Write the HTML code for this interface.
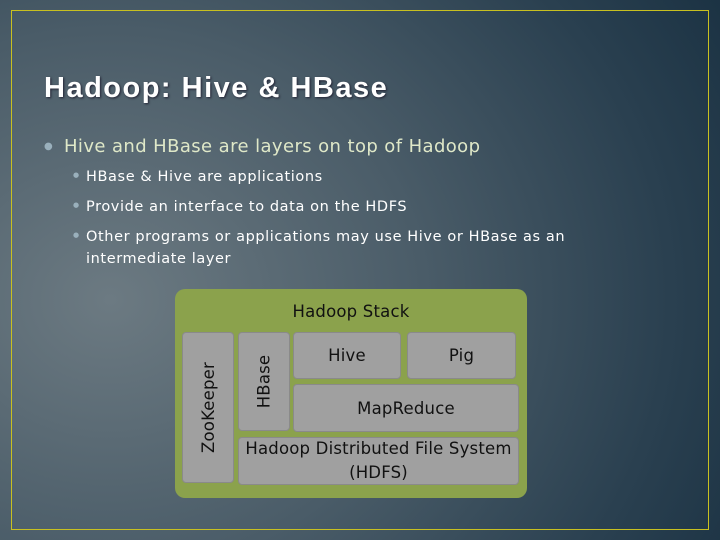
<!DOCTYPE html>
<html><head><style>
body{margin:0;width:720px;height:540px;overflow:hidden;font-family:"DejaVu Sans",sans-serif;
background:radial-gradient(ellipse 700px 600px at 110px 300px,#6c7a82 0%,#4a5c68 45%,#2a4050 80%,#1c3344 100%);position:relative}
.bd{position:absolute;left:11px;top:10px;width:696px;height:518px;border:1px solid #c8c020}
.t{position:absolute;left:44px;top:72px;font-family:"Liberation Sans",sans-serif;font-size:29px;font-weight:bold;color:#fff;letter-spacing:1.5px;text-shadow:1px 1px 2px #223}
.b{position:absolute;color:#dfe8c8;font-size:18px;left:64px;top:136px;letter-spacing:0.4px}
.s{position:absolute;color:#fff;font-size:14.5px;left:86px;line-height:22px;letter-spacing:0.6px}
.d{position:absolute;color:#9ab0bc;font-size:10px}
.g{position:absolute;left:175px;top:289px;width:352px;height:209px;background:#8ba24c;border-radius:10px}
.x{position:absolute;background:#a0a0a0;border:1px solid #8a8a8a;border-radius:4px;color:#111;font-size:16.5px;letter-spacing:0.2px;display:flex;align-items:center;justify-content:center;text-align:center;box-sizing:border-box}
.v{transform:rotate(-90deg);white-space:nowrap}
</style></head><body>
<div class="bd"></div>
<div class="t">Hadoop: Hive &amp; HBase</div>
<div class="d" style="left:44px;top:141px">●</div>
<div class="b">Hive and HBase are layers on top of Hadoop</div>
<div class="d" style="left:73px;top:171px;font-size:7px">●</div>
<div class="s" style="top:166px">HBase &amp; Hive are applications</div>
<div class="d" style="left:73px;top:201px;font-size:7px">●</div>
<div class="s" style="top:196px">Provide an interface to data on the HDFS</div>
<div class="d" style="left:73px;top:231px;font-size:7px">●</div>
<div class="s" style="top:226px">Other programs or applications may use Hive or HBase as an<br>intermediate layer</div>
<div class="g"></div>
<div style="position:absolute;left:175px;width:352px;top:302px;text-align:center;font-size:16.5px;letter-spacing:0.2px;color:#111">Hadoop Stack</div>
<div class="x" style="left:182px;top:332px;width:52px;height:151px"><span class="v">ZooKeeper</span></div>
<div class="x" style="left:238px;top:332px;width:52px;height:99px"><span class="v">HBase</span></div>
<div class="x" style="left:293px;top:332px;width:108px;height:47px">Hive</div>
<div class="x" style="left:407px;top:332px;width:109px;height:47px">Pig</div>
<div class="x" style="left:293px;top:384px;width:226px;height:48px">MapReduce</div>
<div class="x" style="left:238px;top:437px;width:281px;height:48px;line-height:24px">Hadoop Distributed File System<br>(HDFS)</div>
</body></html>
